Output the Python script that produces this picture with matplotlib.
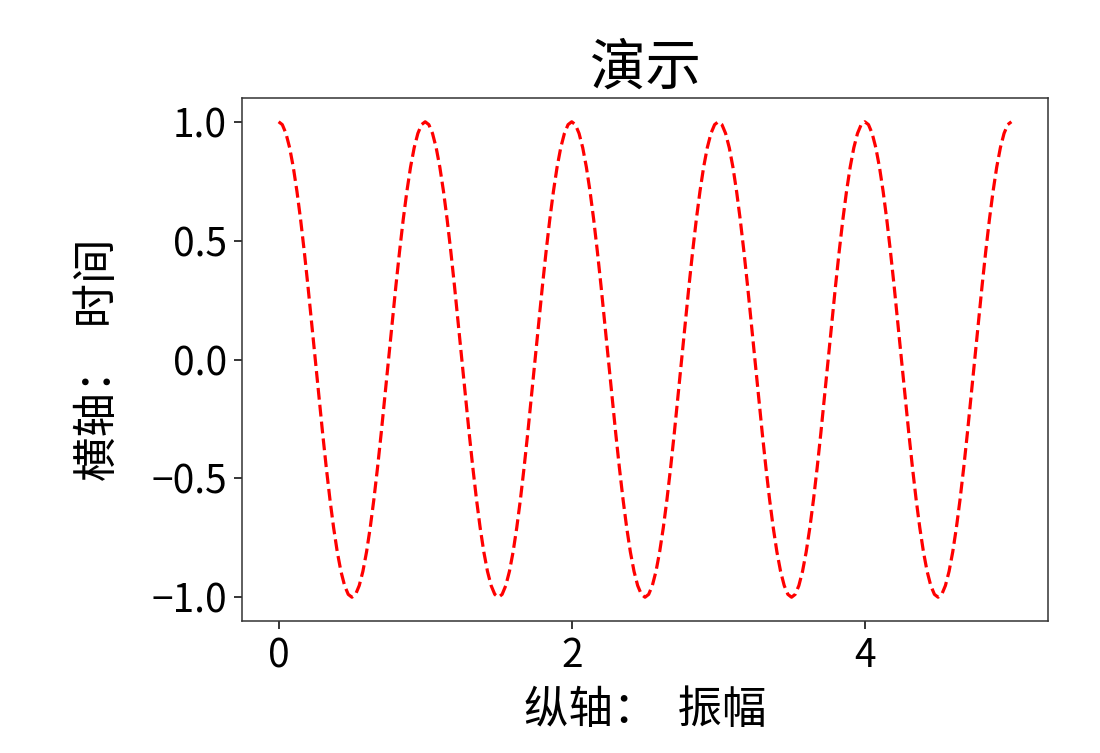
import numpy as np
import matplotlib.pyplot as plt

plt.rcParams['font.family'] = ['Noto Sans CJK SC', 'DejaVu Sans']
plt.rcParams['axes.unicode_minus'] = True

title = '演示'
x_label = '纵轴：  振幅'
y_label = '横轴：  时间'

# samples, every 0.025 on the x axis
x_values = np.linspace(0, 5, 201)
y_values = [
    1.0, 0.988, 0.951, 0.891, 0.809, 0.707, 0.588, 0.454, 0.309, 0.156,
    0.0, -0.156, -0.309, -0.454, -0.588, -0.707, -0.809, -0.891, -0.951, -0.988,
    -1.0, -0.988, -0.951, -0.891, -0.809, -0.707, -0.588, -0.454, -0.309, -0.156,
    0.0, 0.156, 0.309, 0.454, 0.588, 0.707, 0.809, 0.891, 0.951, 0.988,
    1.0, 0.988, 0.951, 0.891, 0.809, 0.707, 0.588, 0.454, 0.309, 0.156,
    0.0, -0.156, -0.309, -0.454, -0.588, -0.707, -0.809, -0.891, -0.951, -0.988,
    -1.0, -0.988, -0.951, -0.891, -0.809, -0.707, -0.588, -0.454, -0.309, -0.156,
    0.0, 0.156, 0.309, 0.454, 0.588, 0.707, 0.809, 0.891, 0.951, 0.988,
    1.0, 0.988, 0.951, 0.891, 0.809, 0.707, 0.588, 0.454, 0.309, 0.156,
    0.0, -0.156, -0.309, -0.454, -0.588, -0.707, -0.809, -0.891, -0.951, -0.988,
    -1.0, -0.988, -0.951, -0.891, -0.809, -0.707, -0.588, -0.454, -0.309, -0.156,
    0.0, 0.156, 0.309, 0.454, 0.588, 0.707, 0.809, 0.891, 0.951, 0.988,
    1.0, 0.988, 0.951, 0.891, 0.809, 0.707, 0.588, 0.454, 0.309, 0.156,
    0.0, -0.156, -0.309, -0.454, -0.588, -0.707, -0.809, -0.891, -0.951, -0.988,
    -1.0, -0.988, -0.951, -0.891, -0.809, -0.707, -0.588, -0.454, -0.309, -0.156,
    0.0, 0.156, 0.309, 0.454, 0.588, 0.707, 0.809, 0.891, 0.951, 0.988,
    1.0, 0.988, 0.951, 0.891, 0.809, 0.707, 0.588, 0.454, 0.309, 0.156,
    0.0, -0.156, -0.309, -0.454, -0.588, -0.707, -0.809, -0.891, -0.951, -0.988,
    -1.0, -0.988, -0.951, -0.891, -0.809, -0.707, -0.588, -0.454, -0.309, -0.156,
    0.0, 0.156, 0.309, 0.454, 0.588, 0.707, 0.809, 0.891, 0.951, 0.988,
    1.0,
]
x_ticks = [0, 2, 4]
y_ticks = [-1.0, -0.5, 0.0, 0.5, 1.0]

fig = plt.figure(figsize=(11, 7.53), dpi=100)
ax = fig.add_axes([242 / 1100, 1 - 621 / 753, 806 / 1100, 523 / 753])

ax.plot(x_values, y_values, color='red', linestyle='--', linewidth=2.3)

ax.set_xticks(x_ticks)
ax.set_yticks(y_ticks)
ax.tick_params(labelsize=28, width=1.1, length=6, pad=5)
for s in ax.spines.values():
    s.set_linewidth(1.1)
    s.set_color('#333333')

ax.set_title(title, fontsize=40, pad=4)
ax.set_xlabel(x_label, fontsize=32, labelpad=8)
ax.set_ylabel(y_label, fontsize=32, labelpad=22)

fig.savefig('out.png', dpi=100)
